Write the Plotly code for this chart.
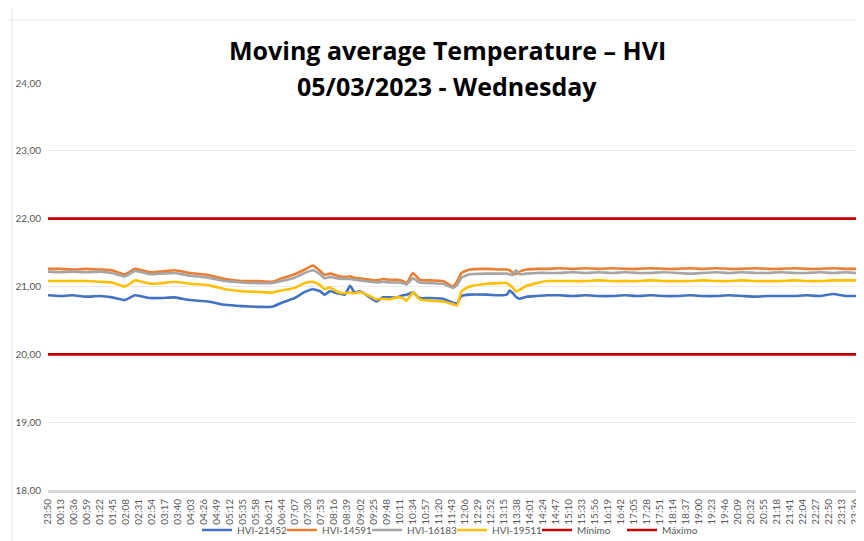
import plotly.graph_objects as go
import pandas as pd

# ---------------- data ----------------
times = [
    "23:50", "00:11", "00:34", "00:57", "01:22", "01:43", "02:06", "02:24", "02:50", "03:11",
    "03:34", "04:01", "04:33", "05:03", "05:33", "06:01", "06:26", "06:43", "07:06", "07:24",
    "07:38", "07:51", "07:59", "08:08", "08:22", "08:35", "08:44", "08:52", "09:01", "09:10",
    "09:19", "09:31", "09:42", "09:54", "10:07", "10:17", "10:24", "10:35", "10:47", "11:05",
    "11:28", "11:46", "11:53", "12:01", "12:16", "12:46", "13:09", "13:21", "13:26", "13:32",
    "13:37", "13:44", "13:56", "14:14", "14:32",
    "14:55", "15:18", "15:41", "16:04", "16:27", "16:50", "17:13", "17:36", "17:59", "18:22",
    "18:45", "19:08", "19:31", "19:54", "20:17", "20:40", "21:03", "21:26", "21:49", "22:12",
    "22:35", "22:58", "23:21", "23:36", "23:49",
]

hvi_21452 = [
    20.87, 20.86, 20.87, 20.85, 20.86, 20.84, 20.80, 20.87, 20.83, 20.83,
    20.84, 20.80, 20.78, 20.73, 20.71, 20.70, 20.70, 20.76, 20.83, 20.92,
    20.96, 20.93, 20.88, 20.93, 20.90, 20.88, 21.01, 20.91, 20.93, 20.89,
    20.84, 20.78, 20.84, 20.84, 20.84, 20.87, 20.88, 20.91, 20.83, 20.83,
    20.82, 20.76, 20.75, 20.86, 20.88, 20.88, 20.87, 20.88, 20.94, 20.90,
    20.85, 20.82, 20.85, 20.86, 20.87,
    20.87, 20.86, 20.87, 20.86, 20.86, 20.87, 20.86, 20.87, 20.86, 20.86,
    20.87, 20.86, 20.86, 20.87, 20.86, 20.85, 20.86, 20.86, 20.86, 20.87,
    20.86, 20.89, 20.86, 20.86, 20.86,
]

hvi_14591 = [
    21.26, 21.26, 21.25, 21.26, 21.25, 21.24, 21.18, 21.26, 21.21, 21.22,
    21.24, 21.20, 21.17, 21.11, 21.08, 21.08, 21.07, 21.12, 21.18, 21.25,
    21.31, 21.23, 21.17, 21.19, 21.16, 21.14, 21.15, 21.13, 21.12, 21.11,
    21.10, 21.09, 21.11, 21.10, 21.10, 21.08, 21.05, 21.20, 21.10, 21.09,
    21.08, 21.00, 21.07, 21.20, 21.25, 21.26, 21.25, 21.25, 21.24, 21.20,
    21.18, 21.22, 21.25, 21.26, 21.26,
    21.27, 21.26, 21.27, 21.26, 21.27, 21.26, 21.26, 21.27, 21.26, 21.26,
    21.27, 21.26, 21.27, 21.26, 21.26, 21.27, 21.26, 21.26, 21.27, 21.26,
    21.26, 21.27, 21.26, 21.26, 21.26,
]

hvi_16183 = [
    21.22, 21.21, 21.22, 21.21, 21.22, 21.20, 21.15, 21.23, 21.18, 21.19,
    21.20, 21.16, 21.13, 21.08, 21.06, 21.05, 21.05, 21.08, 21.13, 21.20,
    21.24, 21.18, 21.12, 21.14, 21.12, 21.11, 21.11, 21.10, 21.09, 21.08,
    21.07, 21.06, 21.07, 21.06, 21.06, 21.05, 21.03, 21.12, 21.06, 21.05,
    21.04, 20.98, 21.02, 21.13, 21.18, 21.19, 21.19, 21.19, 21.18, 21.17,
    21.24, 21.18, 21.19, 21.20, 21.20,
    21.20, 21.21, 21.20, 21.21, 21.20, 21.21, 21.20, 21.20, 21.21, 21.20,
    21.19, 21.20, 21.21, 21.20, 21.21, 21.20, 21.20, 21.21, 21.20, 21.20,
    21.21, 21.20, 21.21, 21.20, 21.20,
]

hvi_19511 = [
    21.08, 21.08, 21.08, 21.08, 21.07, 21.06, 21.00, 21.09, 21.04, 21.05,
    21.07, 21.04, 21.02, 20.96, 20.93, 20.92, 20.91, 20.94, 20.98, 21.05,
    21.07, 21.02, 20.96, 20.99, 20.92, 20.90, 20.91, 20.90, 20.92, 20.89,
    20.86, 20.81, 20.82, 20.81, 20.84, 20.83, 20.79, 20.91, 20.81, 20.79,
    20.78, 20.74, 20.72, 20.93, 21.00, 21.04, 21.05, 21.05, 21.02, 20.98,
    20.93, 20.95, 21.01, 21.05, 21.08,
    21.08, 21.08, 21.08, 21.09, 21.08, 21.08, 21.08, 21.09, 21.08, 21.08,
    21.08, 21.09, 21.08, 21.08, 21.09, 21.08, 21.08, 21.08, 21.09, 21.08,
    21.08, 21.09, 21.09, 21.09, 21.09,
]

minimo = 20.0
maximo = 22.0

series_names = ["HVI-21452", "HVI-14591", "HVI-16183", "HVI-19511"]
y_ticks = [18, 19, 20, 21, 22, 23, 24]

title_lines = ["Moving average Temperature \u2013 HVI", "05/03/2023 - Wednesday"]

# ---------------- build timestamps (day rollover) ----------------
def to_datetimes(ts, start_day="2023-03-04"):
    out = []
    day = pd.Timestamp(start_day)
    prev = None
    for t in ts:
        h, m = map(int, t.split(":"))
        mins = h * 60 + m
        if prev is not None and mins < prev:
            day += pd.Timedelta(days=1)
        prev = mins
        out.append(day + pd.Timedelta(minutes=mins))
    return out

x = to_datetimes(times)

colors = ["#4472C4", "#ED7D31", "#A5A5A5", "#FFC000"]
values = [hvi_21452, hvi_14591, hvi_16183, hvi_19511]

fig = go.Figure()
for name, vals, col in zip(series_names, values, colors):
    fig.add_trace(go.Scatter(
        x=x, y=vals, name=name, mode="lines",
        line=dict(color=col, width=2.6, shape="spline", smoothing=0.5),
    ))

fig.add_trace(go.Scatter(x=[x[0], x[-1]], y=[minimo, minimo], name="Mínimo",
                         mode="lines", line=dict(color="#C00000", width=2.6)))
fig.add_trace(go.Scatter(x=[x[0], x[-1]], y=[maximo, maximo], name="Máximo",
                         mode="lines", line=dict(color="#C00000", width=2.6)))

tick_font = dict(family="Lato, Open Sans, sans-serif", size=10, color="#595959")
title_font = dict(family="Open Sans, sans-serif", size=25, color="black")

# page body has an 8px margin: the figure sits at (8, 8) in the window
PAGE_OFF = 8
FIG_W, FIG_H = 864 - PAGE_OFF, 541 - PAGE_OFF
PLOT_LEFT, PLOT_RIGHT = 48 - PAGE_OFF, 862 - PAGE_OFF
PLOT_TOP, PLOT_BOTTOM = 83 - PAGE_OFF, 490 - PAGE_OFF
PLOT_H = PLOT_BOTTOM - PLOT_TOP
PLOT_W = PLOT_RIGHT - PLOT_LEFT


def py(screen_pix):
    return (PLOT_BOTTOM - (screen_pix - PAGE_OFF)) / PLOT_H


def px(screen_pix):
    return ((screen_pix - PAGE_OFF) - PLOT_LEFT) / PLOT_W


fig.update_layout(
    width=FIG_W, height=FIG_H,
    margin=dict(l=PLOT_LEFT, r=FIG_W - PLOT_RIGHT, t=PLOT_TOP, b=FIG_H - PLOT_BOTTOM,
                autoexpand=False),
    paper_bgcolor="white", plot_bgcolor="white",
    separators=",.",
    showlegend=True,
    legend=dict(orientation="h", x=px(452), xanchor="center", y=py(530), yanchor="middle",
                font=dict(family="Lato, Open Sans, sans-serif", size=10, color="#595959"),
                itemwidth=30, entrywidth=40, entrywidthmode="pixels",
                tracegroupgap=0, bgcolor="rgba(0,0,0,0)"),
    annotations=[
        dict(text="<b>" + title_lines[0] + "</b>", xref="paper", yref="paper",
             x=px(447), y=py(50), xanchor="center", yanchor="middle",
             showarrow=False, font=title_font),
        dict(text="<b>" + title_lines[1] + "</b>", xref="paper", yref="paper",
             x=px(447), y=py(86), xanchor="center", yanchor="middle",
             showarrow=False, font=title_font),
    ],
    shapes=[
        # white cover for the 24 gridline behind the title box
        dict(type="rect", xref="paper", yref="y", x0=px(54), x1=1.0, y0=23.98, y1=24.02,
             fillcolor="white", line=dict(width=0), layer="between"),
        # faint chart border
        dict(type="line", xref="paper", yref="paper", x0=px(12), x1=px(12), y0=py(545), y1=py(8),
             line=dict(color="#dfe6ee", width=1)),
        dict(type="line", xref="paper", yref="paper", x0=px(8), x1=px(864), y0=py(20), y1=py(20),
             line=dict(color="#e6e9ee", width=1)),
    ],
)

fig.update_xaxes(
    type="date",
    range=[x[0], x[-1]],
    tickmode="linear", tick0=x[0], dtick=23 * 60 * 1000,
    tickformat="%H:%M", tickangle=-90,
    tickfont=tick_font,
    showgrid=False, zeroline=False,
    showline=True, linecolor="#d9d9d9", linewidth=3,
    ticks="", ticklabelstandoff=2,
)

fig.update_yaxes(
    range=[18, 24],
    tickmode="array", tickvals=y_ticks, tickformat=".2f",
    tickfont=tick_font,
    showgrid=True, gridcolor="#ebebeb", gridwidth=1,
    zeroline=False, showline=False, ticks="", ticklabelstandoff=6,
)

fig.write_html("out.html")
